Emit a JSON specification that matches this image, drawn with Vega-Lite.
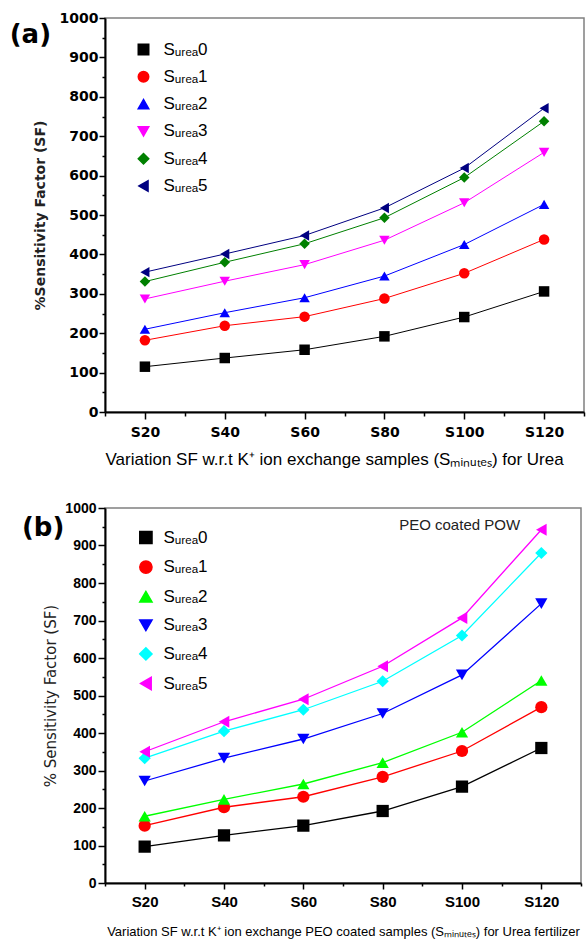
{
  "$schema": "https://vega.github.io/schema/vega-lite/v6.json",
  "background": "white",
  "padding": {"left": 8, "top": 10, "right": 0, "bottom": 0},
  "spacing": 32,
  "datasets": {
    "a": [
      {"s": "Sᵤᵣₑₐ0", "sample": "S20", "minutes": 20, "sf": 115},
      {"s": "Sᵤᵣₑₐ0", "sample": "S40", "minutes": 40, "sf": 137},
      {"s": "Sᵤᵣₑₐ0", "sample": "S60", "minutes": 60, "sf": 158},
      {"s": "Sᵤᵣₑₐ0", "sample": "S80", "minutes": 80, "sf": 192},
      {"s": "Sᵤᵣₑₐ0", "sample": "S100", "minutes": 100, "sf": 241},
      {"s": "Sᵤᵣₑₐ0", "sample": "S120", "minutes": 120, "sf": 306},
      {"s": "Sᵤᵣₑₐ1", "sample": "S20", "minutes": 20, "sf": 182},
      {"s": "Sᵤᵣₑₐ1", "sample": "S40", "minutes": 40, "sf": 219},
      {"s": "Sᵤᵣₑₐ1", "sample": "S60", "minutes": 60, "sf": 242},
      {"s": "Sᵤᵣₑₐ1", "sample": "S80", "minutes": 80, "sf": 288},
      {"s": "Sᵤᵣₑₐ1", "sample": "S100", "minutes": 100, "sf": 352},
      {"s": "Sᵤᵣₑₐ1", "sample": "S120", "minutes": 120, "sf": 438},
      {"s": "Sᵤᵣₑₐ2", "sample": "S20", "minutes": 20, "sf": 210},
      {"s": "Sᵤᵣₑₐ2", "sample": "S40", "minutes": 40, "sf": 252},
      {"s": "Sᵤᵣₑₐ2", "sample": "S60", "minutes": 60, "sf": 290},
      {"s": "Sᵤᵣₑₐ2", "sample": "S80", "minutes": 80, "sf": 345},
      {"s": "Sᵤᵣₑₐ2", "sample": "S100", "minutes": 100, "sf": 425},
      {"s": "Sᵤᵣₑₐ2", "sample": "S120", "minutes": 120, "sf": 527},
      {"s": "Sᵤᵣₑₐ3", "sample": "S20", "minutes": 20, "sf": 287},
      {"s": "Sᵤᵣₑₐ3", "sample": "S40", "minutes": 40, "sf": 332},
      {"s": "Sᵤᵣₑₐ3", "sample": "S60", "minutes": 60, "sf": 374},
      {"s": "Sᵤᵣₑₐ3", "sample": "S80", "minutes": 80, "sf": 436},
      {"s": "Sᵤᵣₑₐ3", "sample": "S100", "minutes": 100, "sf": 531},
      {"s": "Sᵤᵣₑₐ3", "sample": "S120", "minutes": 120, "sf": 659},
      {"s": "Sᵤᵣₑₐ4", "sample": "S20", "minutes": 20, "sf": 331},
      {"s": "Sᵤᵣₑₐ4", "sample": "S40", "minutes": 40, "sf": 380},
      {"s": "Sᵤᵣₑₐ4", "sample": "S60", "minutes": 60, "sf": 427},
      {"s": "Sᵤᵣₑₐ4", "sample": "S80", "minutes": 80, "sf": 493},
      {"s": "Sᵤᵣₑₐ4", "sample": "S100", "minutes": 100, "sf": 595},
      {"s": "Sᵤᵣₑₐ4", "sample": "S120", "minutes": 120, "sf": 738},
      {"s": "Sᵤᵣₑₐ5", "sample": "S20", "minutes": 20, "sf": 355},
      {"s": "Sᵤᵣₑₐ5", "sample": "S40", "minutes": 40, "sf": 401},
      {"s": "Sᵤᵣₑₐ5", "sample": "S60", "minutes": 60, "sf": 448},
      {"s": "Sᵤᵣₑₐ5", "sample": "S80", "minutes": 80, "sf": 518},
      {"s": "Sᵤᵣₑₐ5", "sample": "S100", "minutes": 100, "sf": 619},
      {"s": "Sᵤᵣₑₐ5", "sample": "S120", "minutes": 120, "sf": 771}
    ],
    "b": [
      {"s": "Sᵤᵣₑₐ0", "sample": "S20", "minutes": 20, "sf": 97},
      {"s": "Sᵤᵣₑₐ0", "sample": "S40", "minutes": 40, "sf": 127},
      {"s": "Sᵤᵣₑₐ0", "sample": "S60", "minutes": 60, "sf": 153},
      {"s": "Sᵤᵣₑₐ0", "sample": "S80", "minutes": 80, "sf": 192},
      {"s": "Sᵤᵣₑₐ0", "sample": "S100", "minutes": 100, "sf": 257},
      {"s": "Sᵤᵣₑₐ0", "sample": "S120", "minutes": 120, "sf": 360},
      {"s": "Sᵤᵣₑₐ1", "sample": "S20", "minutes": 20, "sf": 153},
      {"s": "Sᵤᵣₑₐ1", "sample": "S40", "minutes": 40, "sf": 202},
      {"s": "Sᵤᵣₑₐ1", "sample": "S60", "minutes": 60, "sf": 230},
      {"s": "Sᵤᵣₑₐ1", "sample": "S80", "minutes": 80, "sf": 283},
      {"s": "Sᵤᵣₑₐ1", "sample": "S100", "minutes": 100, "sf": 352},
      {"s": "Sᵤᵣₑₐ1", "sample": "S120", "minutes": 120, "sf": 469},
      {"s": "Sᵤᵣₑₐ2", "sample": "S20", "minutes": 20, "sf": 178},
      {"s": "Sᵤᵣₑₐ2", "sample": "S40", "minutes": 40, "sf": 223},
      {"s": "Sᵤᵣₑₐ2", "sample": "S60", "minutes": 60, "sf": 264},
      {"s": "Sᵤᵣₑₐ2", "sample": "S80", "minutes": 80, "sf": 321},
      {"s": "Sᵤᵣₑₐ2", "sample": "S100", "minutes": 100, "sf": 402},
      {"s": "Sᵤᵣₑₐ2", "sample": "S120", "minutes": 120, "sf": 540},
      {"s": "Sᵤᵣₑₐ3", "sample": "S20", "minutes": 20, "sf": 272},
      {"s": "Sᵤᵣₑₐ3", "sample": "S40", "minutes": 40, "sf": 333},
      {"s": "Sᵤᵣₑₐ3", "sample": "S60", "minutes": 60, "sf": 384},
      {"s": "Sᵤᵣₑₐ3", "sample": "S80", "minutes": 80, "sf": 452},
      {"s": "Sᵤᵣₑₐ3", "sample": "S100", "minutes": 100, "sf": 555},
      {"s": "Sᵤᵣₑₐ3", "sample": "S120", "minutes": 120, "sf": 745},
      {"s": "Sᵤᵣₑₐ4", "sample": "S20", "minutes": 20, "sf": 333},
      {"s": "Sᵤᵣₑₐ4", "sample": "S40", "minutes": 40, "sf": 405},
      {"s": "Sᵤᵣₑₐ4", "sample": "S60", "minutes": 60, "sf": 462},
      {"s": "Sᵤᵣₑₐ4", "sample": "S80", "minutes": 80, "sf": 538},
      {"s": "Sᵤᵣₑₐ4", "sample": "S100", "minutes": 100, "sf": 660},
      {"s": "Sᵤᵣₑₐ4", "sample": "S120", "minutes": 120, "sf": 880},
      {"s": "Sᵤᵣₑₐ5", "sample": "S20", "minutes": 20, "sf": 350},
      {"s": "Sᵤᵣₑₐ5", "sample": "S40", "minutes": 40, "sf": 430},
      {"s": "Sᵤᵣₑₐ5", "sample": "S60", "minutes": 60, "sf": 490},
      {"s": "Sᵤᵣₑₐ5", "sample": "S80", "minutes": 80, "sf": 578},
      {"s": "Sᵤᵣₑₐ5", "sample": "S100", "minutes": 100, "sf": 707},
      {"s": "Sᵤᵣₑₐ5", "sample": "S120", "minutes": 120, "sf": 942}
    ]
  },
  "resolve": {
    "scale": {"x": "independent", "y": "independent", "color": "independent", "shape": "independent"},
    "legend": {"color": "independent", "shape": "independent"}
  },
  "vconcat": [
    {
      "width": 479,
      "height": 394,
      "data": {"name": "a"},
      "encoding": {
        "x": {
          "field": "minutes", "type": "quantitative",
          "scale": {"domain": [10, 130], "nice": false, "zero": false},
          "axis": {
            "values": [10, 20, 30, 40, 50, 60, 70, 80, 90, 100, 110, 120, 130],
            "labelExpr": "(datum.value % 20 == 0 && datum.value >= 20 && datum.value <= 120) ? 'S' + datum.value : ''",
            "tickSize": {"condition": {"test": "datum.value % 20 == 0 && datum.value >= 20 && datum.value <= 120", "value": 7}, "value": 4},
            "tickColor": "black", "tickWidth": 1.5,
            "domainColor": "black", "domainWidth": 2,
            "labelFont": "DejaVu Sans", "labelFontWeight": "bold", "labelFontSize": 14, "labelColor": "black",
            "labelPadding": 6, "labelOverlap": false, "labelFlush": false,
            "grid": false,
            "title": "Variation SF w.r.t K⁺ ion exchange samples (Sₘᵢₙᵤₜₑₛ) for Urea",
            "titleFont": "Liberation Sans", "titleFontSize": 17, "titleFontWeight": "normal", "titleColor": "black",
            "titleAnchor": "start", "titlePadding": 12
          }
        },
        "y": {
          "field": "sf", "type": "quantitative",
          "scale": {"domain": [0, 1000], "nice": false},
          "axis": {
            "values": [0, 50, 100, 150, 200, 250, 300, 350, 400, 450, 500, 550, 600, 650, 700, 750, 800, 850, 900, 950, 1000],
            "format": "d",
            "labelExpr": "datum.value % 100 == 0 ? datum.label : ''",
            "tickSize": {"condition": {"test": "datum.value % 100 == 0", "value": 6}, "value": 3},
            "tickColor": "black", "tickWidth": 1.5,
            "domainColor": "black", "domainWidth": 2,
            "labelFont": "DejaVu Sans", "labelFontWeight": "bold", "labelFontSize": 14, "labelColor": "black",
            "labelPadding": 1, "labelOverlap": false, "labelFlush": false,
            "grid": false,
            "title": "%Sensitivity Factor (SF)",
            "titleFont": "DejaVu Sans", "titleFontSize": 14, "titleFontWeight": "bold", "titleColor": "#222222",
            "titlePadding": 12
          }
        }
      },
      "layer": [
        {
          "mark": {"type": "line", "strokeWidth": 1},
          "encoding": {
            "color": {"field": "s", "type": "nominal",
              "scale": {"domain": ["Sᵤᵣₑₐ0", "Sᵤᵣₑₐ1", "Sᵤᵣₑₐ2", "Sᵤᵣₑₐ3", "Sᵤᵣₑₐ4", "Sᵤᵣₑₐ5"],
                        "range": ["#000000", "#FF0000", "#0000FF", "#FF00FF", "#008000", "#000080"]}}
          }
        },
        {
          "mark": {"type": "point", "filled": true, "size": 110, "opacity": 1},
          "encoding": {
            "color": {"field": "s", "type": "nominal",
              "scale": {"domain": ["Sᵤᵣₑₐ0", "Sᵤᵣₑₐ1", "Sᵤᵣₑₐ2", "Sᵤᵣₑₐ3", "Sᵤᵣₑₐ4", "Sᵤᵣₑₐ5"],
                        "range": ["#000000", "#FF0000", "#0000FF", "#FF00FF", "#008000", "#000080"]},
              "legend": {
                "title": null, "orient": "top-left", "offset": 23, "padding": 0,
                "symbolSize": 110, "symbolOffset": 7, "rowPadding": 9.3, "labelOffset": 11.5,
                "labelFont": "Liberation Sans", "labelFontSize": 17, "labelColor": "black"
              }
            },
            "shape": {"field": "s", "type": "nominal",
              "scale": {"domain": ["Sᵤᵣₑₐ0", "Sᵤᵣₑₐ1", "Sᵤᵣₑₐ2", "Sᵤᵣₑₐ3", "Sᵤᵣₑₐ4", "Sᵤᵣₑₐ5"],
                        "range": ["square", "circle", "triangle-up", "triangle-down", "diamond", "triangle-left"]},
              "legend": {
                "title": null, "orient": "top-left", "offset": 23, "padding": 0,
                "symbolSize": 110, "symbolOffset": 7, "rowPadding": 9.3, "labelOffset": 11.5,
                "labelFont": "Liberation Sans", "labelFontSize": 17, "labelColor": "black"
              }
            }
          }
        },
        {
          "transform": [{"filter": "datum.sample == 'S20' && datum.sf == 115"}],
          "mark": {"type": "text", "text": "(a)", "font": "DejaVu Sans", "fontWeight": "bold", "fontSize": 26, "fill": "black", "align": "center", "baseline": "middle"},
          "encoding": {
            "x": {"datum": -8.7, "type": "quantitative"},
            "y": {"datum": 958, "type": "quantitative"}
          }
        }
      ]
    },
    {
      "width": 476,
      "height": 375,
      "data": {"name": "b"},
      "encoding": {
        "x": {
          "field": "minutes", "type": "quantitative",
          "scale": {"domain": [10, 130], "nice": false, "zero": false},
          "axis": {
            "values": [10, 20, 30, 40, 50, 60, 70, 80, 90, 100, 110, 120, 130],
            "labelExpr": "(datum.value % 20 == 0 && datum.value >= 20 && datum.value <= 120) ? 'S' + datum.value : ''",
            "tickSize": {"condition": {"test": "datum.value % 20 == 0 && datum.value >= 20 && datum.value <= 120", "value": 6}, "value": 3},
            "tickColor": "black", "tickWidth": 1.5,
            "domainColor": "black", "domainWidth": 2,
            "labelFont": "Liberation Sans", "labelFontWeight": "bold", "labelFontSize": 15, "labelColor": "black",
            "labelPadding": 5, "labelOverlap": false, "labelFlush": false,
            "grid": false,
            "title": "Variation SF w.r.t K⁺ ion exchange PEO coated samples (Sₘᵢₙᵤₜₑₛ) for Urea fertilizer",
            "titleFont": "Liberation Sans", "titleFontSize": 13, "titleFontWeight": "normal", "titleColor": "black",
            "titlePadding": 16
          }
        },
        "y": {
          "field": "sf", "type": "quantitative",
          "scale": {"domain": [0, 1000], "nice": false},
          "axis": {
            "values": [0, 50, 100, 150, 200, 250, 300, 350, 400, 450, 500, 550, 600, 650, 700, 750, 800, 850, 900, 950, 1000],
            "format": "d",
            "labelExpr": "datum.value % 100 == 0 ? datum.label : ''",
            "tickSize": {"condition": {"test": "datum.value % 100 == 0", "value": 7}, "value": 3},
            "tickColor": "black", "tickWidth": 1.5,
            "domainColor": "black", "domainWidth": 2,
            "labelFont": "Liberation Sans", "labelFontWeight": "bold", "labelFontSize": 14, "labelColor": "black",
            "labelPadding": 2, "labelOverlap": false, "labelFlush": false,
            "grid": false,
            "title": "% Sensitivity Factor (SF)",
            "titleFont": "DejaVu Sans", "titleFontSize": 15, "titleFontWeight": "normal", "titleColor": "#222222",
            "titlePadding": 6
          }
        }
      },
      "layer": [
        {
          "mark": {"type": "line", "strokeWidth": 1.3},
          "encoding": {
            "color": {"field": "s", "type": "nominal",
              "scale": {"domain": ["Sᵤᵣₑₐ0", "Sᵤᵣₑₐ1", "Sᵤᵣₑₐ2", "Sᵤᵣₑₐ3", "Sᵤᵣₑₐ4", "Sᵤᵣₑₐ5"],
                        "range": ["#000000", "#FF0000", "#00FF00", "#0000FF", "#00FFFF", "#FF00FF"]}}
          }
        },
        {
          "mark": {"type": "point", "filled": true, "size": 150, "opacity": 1},
          "encoding": {
            "color": {"field": "s", "type": "nominal",
              "scale": {"domain": ["Sᵤᵣₑₐ0", "Sᵤᵣₑₐ1", "Sᵤᵣₑₐ2", "Sᵤᵣₑₐ3", "Sᵤᵣₑₐ4", "Sᵤᵣₑₐ5"],
                        "range": ["#000000", "#FF0000", "#00FF00", "#0000FF", "#00FFFF", "#FF00FF"]},
              "legend": {
                "title": null, "orient": "top-left", "offset": 21, "padding": 0,
                "symbolSize": 150, "symbolOffset": 11.4, "rowPadding": 10.6, "labelOffset": 9,
                "labelFont": "Liberation Sans", "labelFontSize": 17, "labelColor": "black"
              }
            },
            "shape": {"field": "s", "type": "nominal",
              "scale": {"domain": ["Sᵤᵣₑₐ0", "Sᵤᵣₑₐ1", "Sᵤᵣₑₐ2", "Sᵤᵣₑₐ3", "Sᵤᵣₑₐ4", "Sᵤᵣₑₐ5"],
                        "range": ["square", "circle", "triangle-up", "triangle-down", "diamond", "triangle-left"]},
              "legend": {
                "title": null, "orient": "top-left", "offset": 21, "padding": 0,
                "symbolSize": 150, "symbolOffset": 11.4, "rowPadding": 10.6, "labelOffset": 9,
                "labelFont": "Liberation Sans", "labelFontSize": 17, "labelColor": "black"
              }
            }
          }
        },
        {
          "transform": [{"filter": "datum.sample == 'S20' && datum.sf == 97"}],
          "mark": {"type": "text", "text": "(b)", "font": "DejaVu Sans", "fontWeight": "bold", "fontSize": 26, "fill": "black", "align": "center", "baseline": "middle"},
          "encoding": {
            "x": {"datum": -5.6, "type": "quantitative"},
            "y": {"datum": 947, "type": "quantitative"}
          }
        },
        {
          "transform": [{"filter": "datum.sample == 'S20' && datum.sf == 97"}],
          "mark": {"type": "text", "text": "PEO coated POW", "font": "Liberation Sans", "fontSize": 15, "fill": "#222222", "align": "center", "baseline": "middle"},
          "encoding": {
            "x": {"datum": 99.4, "type": "quantitative"},
            "y": {"datum": 955, "type": "quantitative"}
          }
        }
      ]
    }
  ],
  "config": {
    "view": {"stroke": "#808080", "strokeWidth": 1.5},
    "axis": {"grid": false}
  }
}
